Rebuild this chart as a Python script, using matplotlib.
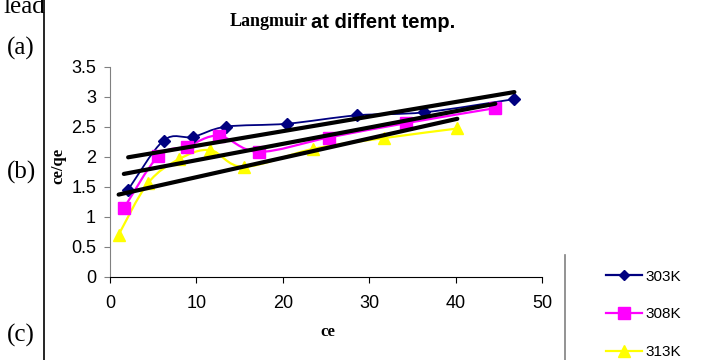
import numpy as np
import matplotlib
matplotlib.use("Agg")
import matplotlib.pyplot as plt
from matplotlib.path import Path
from matplotlib.patches import PathPatch, Rectangle
from matplotlib.lines import Line2D

# data
x_303 = [2.1, 6.2, 9.6, 13.4, 20.5, 28.6, 36.4, 46.8]
y_303 = [1.45, 2.27, 2.33, 2.50, 2.55, 2.69, 2.74, 2.96]
x_308 = [1.6, 5.6, 8.9, 12.6, 17.2, 25.3, 34.3, 44.6]
y_308 = [1.14, 2.01, 2.17, 2.35, 2.08, 2.32, 2.56, 2.81]
x_313 = [1.0, 4.4, 8.0, 11.6, 15.5, 23.5, 31.7, 40.2]
y_313 = [0.70, 1.56, 1.96, 2.11, 1.83, 2.13, 2.31, 2.47]
labels = ["303K", "308K", "313K"]
xticks = [0, 10, 20, 30, 40, 50]
yticks = [0, 0.5, 1, 1.5, 2, 2.5, 3, 3.5]

W, H = 720, 360


def fx(px):
    return px / W


def fy(py):
    return 1 - py / H


def smooth_path(xs, ys):
    # excel-like smoothed line: bezier segments through the data points
    p = np.column_stack([xs, ys]).astype(float)
    n = len(p)
    verts = [p[0]]
    codes = [Path.MOVETO]
    for i in range(n - 1):
        p0 = p[i - 1] if i > 0 else p[i]
        p3 = p[i + 2] if i + 2 < n else p[i + 1]
        c1 = p[i] + (p[i + 1] - p0) / 6
        c2 = p[i + 1] - (p3 - p[i]) / 6
        verts += [c1, c2, p[i + 1]]
        codes += [Path.CURVE4] * 3
    return Path(verts, codes)


fig = plt.figure(figsize=(7.2, 3.6), dpi=100)
ax = fig.add_axes([fx(110), fy(276.7), 432 / W, 210 / H])

series = [
    (x_303, y_303, "#000080", "D", 6, 1.3),
    (x_308, y_308, "#FF00FF", "s", 9, 1.6),
    (x_313, y_313, "#FFFF00", "^", 9, 1.6),
]
handles = []
for (xs, ys, col, mk, ms, lw), lab in zip(series, labels):
    ax.add_patch(PathPatch(smooth_path(xs, ys), fill=False, edgecolor=col, lw=lw, zorder=2))
    ax.plot(xs, ys, ls="none", marker=mk, ms=ms, color=col, zorder=3)
    handles.append(Line2D([], [], color=col, lw=1.6, marker=mk, ms=ms * 0.9, label=lab))

# linear trend lines
for xs, ys, _, _, _, _ in series:
    k, b = np.polyfit(xs, ys, 1)
    xx = np.array([min(xs), max(xs)])
    ax.plot(xx, k * xx + b, color="black", lw=3, solid_capstyle="round", zorder=4)

ax.set_xlim(0, 50)
ax.set_ylim(0, 3.5)
ax.set_xticks(xticks)
ax.set_yticks(yticks)
ax.set_yticklabels([f"{v:g}" for v in yticks])
for s in ["top", "right"]:
    ax.spines[s].set_visible(False)
ax.spines["left"].set_color("#808080")
ax.spines["bottom"].set_color("black")
ax.tick_params(axis="both", labelsize=13, length=4, direction="out")
ax.tick_params(axis="y", color="#808080", pad=6)
ax.tick_params(axis="x", pad=9)
for t in ax.get_xticklabels() + ax.get_yticklabels():
    t.set_fontfamily("Liberation Sans")

fig.text(fx(58), fy(166), "ce/qe", rotation=90, ha="center", va="center",
         fontsize=12, fontweight="bold", family="Liberation Serif")
fig.text(fx(328), fy(332), "ce", ha="center", va="center",
         fontsize=12, fontweight="bold", family="Liberation Serif")

# title: serif word followed by sans part
t1 = fig.text(fx(230), fy(22), "Langmuir", ha="left", va="center",
              fontsize=13, fontweight="bold", family="Liberation Serif")
fig.canvas.draw()
bb = t1.get_window_extent()
fig.text(bb.x1 / W + fx(3), fy(22), "at diffent temp.", ha="left", va="center",
         fontsize=14.5, fontweight="bold", family="Liberation Sans")

# legend
fig.legend(handles=handles, loc="upper left", bbox_to_anchor=(fx(592), fy(256)),
           frameon=False, prop={"family": "Liberation Sans", "size": 11},
           handlelength=2.4, handletextpad=0.2, labelspacing=1.55)
fig.add_artist(Line2D([fx(565)] * 2, [0, fy(255)], transform=fig.transFigure,
                      color="#808080", lw=1.2))

# surrounding document page
fig.text(fx(3), fy(7), "lead", ha="left", va="center", fontsize=18,
         family="Liberation Serif")
fig.add_artist(Rectangle((fx(44.5), fy(20)), fx(60), 20 / H, transform=fig.transFigure,
                         facecolor="white", edgecolor="none", zorder=5))
for lab, py in [("(a)", 48), ("(b)", 172), ("(c)", 335)]:
    fig.text(fx(7), fy(py), lab, ha="left", va="center", fontsize=18,
             family="Liberation Serif")
fig.add_artist(Line2D([fx(44)] * 2, [0, 1], transform=fig.transFigure,
                      color="black", lw=1.2, zorder=6))

fig.savefig("out.png", dpi=100)
